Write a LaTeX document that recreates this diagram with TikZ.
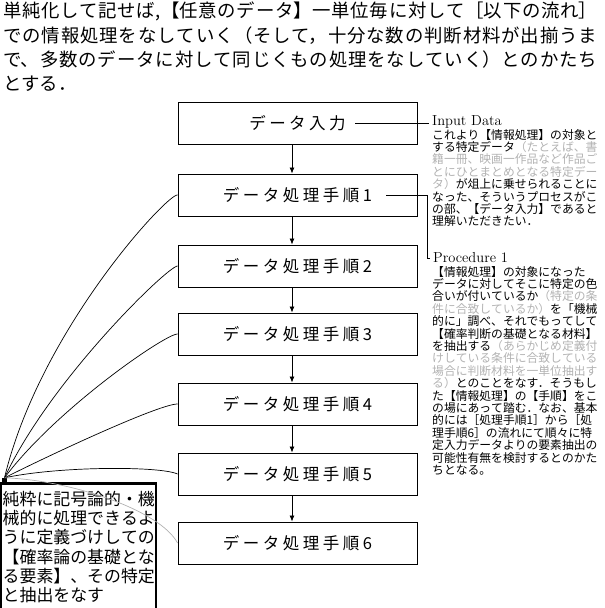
\documentclass[tikz,border=0pt]{standalone}
\usepackage{fontspec}
\newfontfamily\jp{Noto Sans CJK JP}
\usetikzlibrary{arrows.meta}
\XeTeXlinebreaklocale "ja"
\XeTeXlinebreakskip=0pt plus 4pt
\setlength{\parindent}{0pt}
\newcommand{\boxkern}{\kern3.5pt}
\begin{document}
\begin{tikzpicture}[x=1pt,y=-1pt,
  stepbox/.style={draw, line width=0.9pt, minimum width=239pt, minimum height=42pt, inner sep=0pt, font=\jp\fontsize{16.5}{18}\selectfont},
  flow/.style={-{Latex[length=6pt,width=5pt]}, line width=0.8pt},
  fan/.style={line width=0.7pt},
  lead/.style={line width=0.8pt},
  tag/.style={anchor=west, inner sep=3pt, font=\fontsize{14.5}{16}\selectfont},
  note/.style={anchor=north west, inner sep=0pt, align=left, text width=170pt, font=\jp\fontsize{11.8}{12.4}\selectfont},
  dim/.style={gray!60}
]
\useasboundingbox (0,0) rectangle (605,608);

% heading
\node[anchor=north west, inner sep=0pt, text width=594pt, align=justify,
      font=\jp\fontsize{18.4}{24.2}\selectfont] (head) at (3,2)
 {単純化して記せば,【任意のデータ】一単位毎に対して［以下の流れ］\linebreak
  での情報処理をなしていく（そして，十分な数の判断材料が出揃うま\linebreak
  で、多数のデータに対して同じくもの処理をなしていく）とのかたち\linebreak
  とする．};

% flow boxes
\node[stepbox] (b0) at (297.5,123) {デ\boxkern ー\boxkern タ\boxkern 入\boxkern 力};
\node[stepbox] (b1) at (297.5,195) {デ\boxkern ー\boxkern タ\boxkern 処\boxkern 理\boxkern 手\boxkern 順\boxkern 1};
\node[stepbox] (b2) at (297.5,266) {デ\boxkern ー\boxkern タ\boxkern 処\boxkern 理\boxkern 手\boxkern 順\boxkern 2};
\node[stepbox] (b3) at (297.5,334) {デ\boxkern ー\boxkern タ\boxkern 処\boxkern 理\boxkern 手\boxkern 順\boxkern 3};
\node[stepbox] (b4) at (297.5,404) {デ\boxkern ー\boxkern タ\boxkern 処\boxkern 理\boxkern 手\boxkern 順\boxkern 4};
\node[stepbox] (b5) at (297.5,474) {デ\boxkern ー\boxkern タ\boxkern 処\boxkern 理\boxkern 手\boxkern 順\boxkern 5};
\node[stepbox] (b6) at (297.5,543) {デ\boxkern ー\boxkern タ\boxkern 処\boxkern 理\boxkern 手\boxkern 順\boxkern 6};

\foreach \a/\b in {b0/b1,b1/b2,b2/b3,b3/b4,b4/b5,b5/b6}
  \draw[flow] ([xshift=-5.5pt]\a.south) -- ([xshift=-5.5pt]\b.north);

% annotations
\node[tag] (in0) at (429,122) {Input Data};
\coordinate (c0) at (355,123);
\draw[lead] (c0) -- (c0 -| in0.west);
\node[note] (n0) at (432,129)
 {これより【情報処理】の対象と\\
  する特定データ{\color{gray!60}（たとえば、書\\
  籍一冊、映画一作品など作品ご\\
  とにひとまとめとなる特定デー\\
  タ）}が俎上に乗せられることに\\
  なった、そういうプロセスがこ\\
  の部、【データ入力】であると\\
  理解いただきたい．};

\node[tag] (pr1) at (430,258) {Procedure 1};
\coordinate (c1) at (386,195);
\coordinate (k1) at (427,195);
\draw[lead] (c1) -- (k1) |- (pr1.west);
\node[note] (n1) at (432,266)
 {【情報処理】の対象になった\\
  データに対してそこに特定の色\\
  合いが付いているか{\color{gray!60}（特定の条\\
  件に合致しているか）}を「機械\\
  的に」調べ、それでもってして\\
  【確率判断の基礎となる材料】\\
  を抽出する{\color{gray!60}（あらかじめ定義付\\
  けしている条件に合致している\\
  場合に判断材料を一単位抽出す\\
  る）}とのことをなす．そうもし\\
  た【情報処理】の【手順】をこ\\
  の場にあって踏む．なお、基本\\
  的には［処理手順1］から［処\\
  理手順6］の流れにて順々に特\\
  定入力データよりの要素抽出の\\
  可能性有無を検討するとのかた\\
  ちとなる。};

% bottom-left box and fan
\draw[line width=2.4pt] (1.2,640) |- (156,483.5) -- (156,640);
\node[anchor=north west, inner sep=0pt, text width=154pt, align=left,
      font=\jp\fontsize{16.9}{19.2}\selectfont] (kb) at (2.5,491)
 {純粋に記号論的・機\\
  械的に処理できるよ\\
  うに定義づけしての\\
  【確率論の基礎とな\\
  る要素】、その特定\\
  と抽出をなす};

\node[fill=black, minimum size=5pt, inner sep=0pt] (hub) at (4.5,480.5) {};
\draw[fan] (hub.north) .. controls (40,330) and (168,193) .. (b1.west);
\draw[fan] (hub.north) .. controls (50,380) and (168,266) .. (b2.west);
\draw[fan] (hub.north) .. controls (55,410) and (165,334) .. (b3.west);
\draw[fan] (hub.north) .. controls (60,450) and (160,404) .. (b4.west);
\draw[fan] (hub.north) .. controls (60,466) and (160,466) .. (b5.west);
\draw[fan, gray!60] (hub.north) .. controls (70,480) and (160,510) .. (b6.west);
\end{tikzpicture}
\end{document}
